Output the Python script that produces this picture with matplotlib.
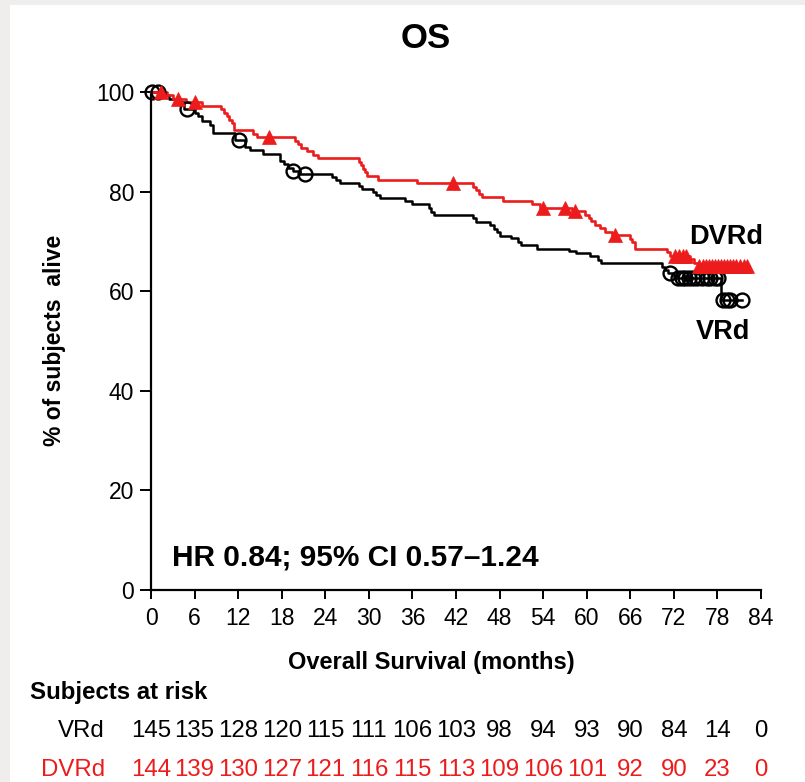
import numpy as np
import matplotlib
matplotlib.use("Agg")
import matplotlib.pyplot as plt
from matplotlib.patches import Rectangle
from matplotlib.transforms import blended_transform_factory

plt.rcParams['font.family'] = ['Liberation Sans', 'DejaVu Sans']

# ---------------- data ----------------
# VRd: event times (months) and survival (%) after each step
vrd_t = [0, 1.5, 2.5, 3.5, 4.5, 6.0, 6.5, 7.0, 8.1, 8.5, 11.5, 13.0, 13.6, 15.4,
         17.8, 18.3, 18.9, 19.5, 20.5, 24.9, 25.5, 26.0, 28.6, 29.0, 30.6, 31.0,
         31.5, 35.0, 36.0, 38.3, 38.6, 39.0, 44.4, 44.8, 46.7, 47.2, 47.6, 48.0,
         49.6, 50.5, 51.0, 53.1, 57.5, 58.5, 60.5, 61.5, 62.0, 70.3, 70.8, 71.2,
         72.0, 78.5, 81.4]
vrd_s = [100, 99.3, 98.6, 97.9, 96.5, 95.8, 95.1, 94.1, 93.3, 91.8, 90.4, 89.0, 88.3, 87.6,
         86.2, 85.5, 84.8, 84.2, 83.6, 83.0, 82.3, 81.7, 81.1, 80.5, 79.9, 79.3,
         78.7, 78.1, 77.5, 76.8, 76.0, 75.3, 74.6, 73.9, 73.2, 72.5, 71.8, 71.1,
         70.6, 69.9, 69.2, 68.5, 68.1, 67.7, 67.0, 66.3, 65.6, 64.9, 64.2, 63.6,
         62.6, 58.2, 58.2]
vrd_cens = [0.1, 1.0, 4.9, 12.1, 19.6, 21.2, 71.4, 72.6, 73.1, 73.6, 74.1, 74.6,
            75.2, 75.9, 76.5, 77.0, 77.6, 78.1, 78.8, 79.3, 79.7, 81.4]

# DVRd
dvrd_t = [0, 2.2, 3.0, 4.8, 7.0, 9.6, 10.0, 10.4, 10.8, 11.1, 11.4, 14.0, 14.6,
          19.8, 20.2, 20.6, 21.5, 22.3, 23.0, 28.6, 28.9, 29.2, 29.4, 29.7, 31.3,
          36.6, 44.4, 44.8, 45.2, 45.6, 48.5, 52.4, 53.5, 58.0, 59.8, 60.3, 60.6,
          61.2, 61.8, 62.5, 63.5, 66.0, 66.2, 66.6, 71.0, 71.5, 74.2, 74.8, 75.3, 82.3]
dvrd_s = [100, 99.3, 98.6, 97.9, 97.2, 96.5, 95.8, 95.1, 94.4, 93.7, 92.3, 91.6, 90.9,
          90.2, 89.5, 88.8, 88.1, 87.4, 86.7, 86.0, 85.3, 84.6, 83.9, 83.2, 82.4,
          81.7, 81.0, 80.3, 79.6, 78.9, 78.2, 77.5, 76.8, 76.1, 75.4, 74.7, 74.0,
          73.3, 72.6, 71.9, 71.2, 70.5, 69.8, 68.5, 67.8, 67.1, 66.4, 65.7, 65.0, 65.0]
dvrd_cens = [1.4, 3.7, 6.1, 16.2, 41.6, 54.0, 57.0, 58.4, 63.9, 72.2, 72.7, 73.2,
             73.7, 75.5, 76.0, 76.4, 76.9, 77.3, 77.7, 78.1, 78.5, 78.9, 79.3, 79.7,
             80.1, 80.6, 81.1, 81.6, 82.1]

xticks = [0, 6, 12, 18, 24, 30, 36, 42, 48, 54, 60, 66, 72, 78, 84]
yticks = [0, 20, 40, 60, 80, 100]
risk_vrd = [145, 135, 128, 120, 115, 111, 106, 103, 98, 94, 93, 90, 84, 14, 0]
risk_dvrd = [144, 139, 130, 127, 121, 116, 115, 113, 109, 106, 101, 92, 90, 23, 0]

RED = '#ec1c1c'
BLACK = '#000000'


def step_value(t, s, x):
    t = np.asarray(t)
    s = np.asarray(s)
    idx = np.searchsorted(t, x, side='right') - 1
    return s[np.clip(idx, 0, len(s) - 1)]


# ---------------- figure ----------------
fig = plt.figure(figsize=(8.05, 7.82), dpi=100)
fig.patch.set_facecolor('#efeeec')
fig.add_artist(Rectangle((10 / 805, 0), 1 - 10 / 805, 1 - 5 / 782,
                         transform=fig.transFigure, facecolor='white',
                         edgecolor='none', zorder=0))

ax = fig.add_axes([151 / 805, (782 - 590) / 782, 610 / 805, 498 / 782])
ax.set_facecolor('none')

ax.step(vrd_t, vrd_s, where='post', color=BLACK, lw=1.8, zorder=3, clip_on=False)
ax.step(dvrd_t, dvrd_s, where='post', color=RED, lw=1.9, zorder=4, clip_on=False)

ax.plot(vrd_cens, step_value(vrd_t, vrd_s, vrd_cens), linestyle='none', marker='o',
        ms=10, mfc='none', mec=BLACK, mew=1.7, zorder=5, clip_on=False)
ax.plot(dvrd_cens, step_value(dvrd_t, dvrd_s, dvrd_cens), linestyle='none', marker='^',
        ms=9.5, mfc=RED, mec=RED, mew=0.5, zorder=6, clip_on=False)

ax.set_xlim(0, 84)
ax.set_ylim(0, 100)
ax.set_xticks(xticks)
ax.set_yticks(yticks)
ax.tick_params(axis='both', direction='out', width=1.4, labelsize=16.5, color=BLACK)
ax.tick_params(axis='x', length=6.5, pad=6)
ax.tick_params(axis='y', length=8, pad=4)
for side in ['top', 'right']:
    ax.spines[side].set_visible(False)
for side in ['left', 'bottom']:
    ax.spines[side].set_linewidth(1.6)

ax.text(2.9, 6.6, 'HR 0.84; 95% CI 0.57\u20131.24', fontsize=21.5, fontweight='bold',
        ha='left', va='center')
ax.text(79.2, 70.9, 'DVRd', fontsize=19.5, fontweight='bold', ha='center', va='center')
ax.text(78.8, 51.8, 'VRd', fontsize=19.5, fontweight='bold', ha='center', va='center')

fig.text(426 / 805, 1 - 38 / 782, 'OS', fontsize=25, fontweight='bold',
         ha='center', va='center')
fig.text(431 / 805, 1 - 662 / 782, 'Overall Survival (months)', fontsize=17,
         fontweight='bold', ha='center', va='center')
fig.text(55 / 805, 1 - 340 / 782, '% of subjects  alive', fontsize=16.5,
         fontweight='bold', ha='center', va='center', rotation=90)

fig.text(30 / 805, 1 - 693 / 782, 'Subjects at risk', fontsize=17.3,
         fontweight='bold', ha='left', va='center')

trans = blended_transform_factory(ax.transData, fig.transFigure)
y_vrd = 1 - 731 / 782
y_dvrd = 1 - 770 / 782
fig.text(105 / 805, y_vrd, 'VRd', fontsize=17.3, ha='right', va='center', color=BLACK)
fig.text(105 / 805, y_dvrd, 'DVRd', fontsize=17.3, ha='right', va='center', color=RED)
for x, a, b in zip(xticks, risk_vrd, risk_dvrd):
    ax.text(x, y_vrd, str(a), transform=trans, fontsize=17.3, ha='center',
            va='center', color=BLACK, clip_on=False)
    ax.text(x, y_dvrd, str(b), transform=trans, fontsize=17.3, ha='center',
            va='center', color=RED, clip_on=False)

fig.savefig('out.png', dpi=100, facecolor=fig.get_facecolor())
